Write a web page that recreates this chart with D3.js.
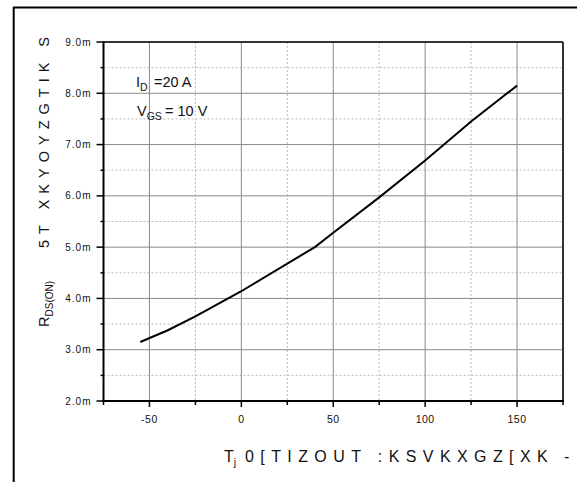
<!DOCTYPE html>
<html>
<head>
<meta charset="utf-8">
<script src="https://cdn.jsdelivr.net/npm/d3@7"></script>
<style>
  body { margin: 0; background: #fff; }
  text, tspan { font-family: "Liberation Sans", Arial, sans-serif; fill: #111; }
</style>
</head>
<body>
<div id="container"></div>
<script>
// R_DS(on) vs junction temperature
const temps = [-55, -40, -25, 0, 25, 40, 50, 75, 100, 125, 150];
const rdson = [3.15, 3.38, 3.65, 4.14, 4.68, 5.0, 5.28, 5.97, 6.69, 7.45, 8.15];

const xMajor = [-50, 0, 50, 100, 150];
const xMinor = [-75, -25, 25, 75, 125, 175];
const yMajor = [2, 3, 4, 5, 6, 7, 8, 9];
const yMinor = [2.5, 3.5, 4.5, 5.5, 6.5, 7.5, 8.5];
const yTickLabels = ["2.0m", "3.0m", "4.0m", "5.0m", "6.0m", "7.0m", "8.0m", "9.0m"];

const width = 577, height = 482;
const plotL = 103.5, plotR = 563, plotT = 42, plotB = 401;

const svg = d3.select("#container").append("svg")
    .attr("width", width)
    .attr("height", height);

// outer frame lines (top and left only)
svg.append("line")
    .attr("x1", 13).attr("y1", 7.5).attr("x2", width).attr("y2", 7.5)
    .attr("stroke", "#000").attr("stroke-width", 2);
svg.append("line")
    .attr("x1", 13.7).attr("y1", 7).attr("x2", 13.7).attr("y2", height)
    .attr("stroke", "#000").attr("stroke-width", 2);

const x = d3.scaleLinear().domain([-75, 175]).range([plotL, plotR]);
const y = d3.scaleLinear().domain([2, 9]).range([plotB, plotT]);

// minor grid (dashed)
svg.selectAll(".vminor").data(xMinor.slice(1, -1)).enter().append("line")
    .attr("x1", d => x(d)).attr("x2", d => x(d))
    .attr("y1", plotT).attr("y2", plotB)
    .attr("stroke", "#bbb").attr("stroke-dasharray", "2,2");
svg.selectAll(".hminor").data(yMinor).enter().append("line")
    .attr("x1", plotL).attr("x2", plotR)
    .attr("y1", d => y(d)).attr("y2", d => y(d))
    .attr("stroke", "#bbb").attr("stroke-dasharray", "2,2");

// major grid (solid)
svg.selectAll(".vmajor").data(xMajor).enter().append("line")
    .attr("x1", d => x(d)).attr("x2", d => x(d))
    .attr("y1", plotT).attr("y2", plotB)
    .attr("stroke", "#8a8a8a").attr("stroke-width", 1);
svg.selectAll(".hmajor").data(yMajor.slice(1, -1)).enter().append("line")
    .attr("x1", plotL).attr("x2", plotR)
    .attr("y1", d => y(d)).attr("y2", d => y(d))
    .attr("stroke", "#8a8a8a").attr("stroke-width", 1);

// top and right borders
svg.append("line")
    .attr("x1", plotL).attr("x2", plotR).attr("y1", plotT).attr("y2", plotT)
    .attr("stroke", "#333").attr("stroke-width", 2);
svg.append("line")
    .attr("x1", plotR).attr("x2", plotR).attr("y1", plotT).attr("y2", plotB)
    .attr("stroke", "#333").attr("stroke-width", 2);

// axis lines
svg.append("line")
    .attr("x1", plotL).attr("x2", plotL).attr("y1", plotT - 1).attr("y2", plotB + 1)
    .attr("stroke", "#000").attr("stroke-width", 2);
svg.append("line")
    .attr("x1", plotL - 1).attr("x2", plotR + 1).attr("y1", plotB).attr("y2", plotB)
    .attr("stroke", "#000").attr("stroke-width", 2);

// ticks
svg.selectAll(".xt").data(xMajor).enter().append("line")
    .attr("x1", d => x(d)).attr("x2", d => x(d))
    .attr("y1", plotB).attr("y2", plotB + 6)
    .attr("stroke", "#000").attr("stroke-width", 1.5);
svg.selectAll(".xtm").data(xMinor).enter().append("line")
    .attr("x1", d => x(d)).attr("x2", d => x(d))
    .attr("y1", plotB).attr("y2", plotB + 4)
    .attr("stroke", "#000").attr("stroke-width", 1.5);
svg.selectAll(".yt").data(yMajor).enter().append("line")
    .attr("x1", plotL - 7).attr("x2", plotL)
    .attr("y1", d => y(d)).attr("y2", d => y(d))
    .attr("stroke", "#000").attr("stroke-width", 1.5);
svg.selectAll(".ytm").data(yMinor).enter().append("line")
    .attr("x1", plotL - 3).attr("x2", plotL)
    .attr("y1", d => y(d)).attr("y2", d => y(d))
    .attr("stroke", "#000").attr("stroke-width", 1.5);

// tick labels
svg.selectAll(".xl").data(xMajor).enter().append("text")
    .attr("x", d => x(d)).attr("y", plotB + 22)
    .attr("text-anchor", "middle")
    .attr("font-size", 10.5)
    .style("letter-spacing", "0.5px")
    .text(d => d);
svg.selectAll(".yl").data(yMajor).enter().append("text")
    .attr("x", plotL - 12).attr("y", d => y(d) + 3.5)
    .attr("text-anchor", "end")
    .attr("font-size", 10)
    .style("letter-spacing", "1px")
    .text((d, i) => yTickLabels[i]);

// curve
const line = d3.line()
    .x((d, i) => x(temps[i]))
    .y(d => y(d));
svg.append("path")
    .attr("d", line(rdson))
    .attr("fill", "none")
    .attr("stroke", "#000")
    .attr("stroke-width", 2);

// annotations
const a1 = svg.append("text").attr("x", 136).attr("y", 86.5).attr("font-size", 14.5);
a1.append("tspan").text("I");
a1.append("tspan").attr("font-size", 10.5).attr("dy", 4).text("D");
a1.append("tspan").attr("dy", -4).attr("x", 154).text("=20 A");

const a2 = svg.append("text").attr("x", 137).attr("y", 116).attr("font-size", 14.5);
a2.append("tspan").text("V");
a2.append("tspan").attr("font-size", 10.5).attr("dy", 4).text("GS");
a2.append("tspan").attr("dy", -4).attr("x", 165).text("= 10 V");

// y axis title
const yt = svg.append("text")
    .attr("transform", "translate(49,327) rotate(-90)")
    .attr("font-size", 14.5);
yt.append("tspan").text("R");
yt.append("tspan").attr("font-size", 10).attr("dy", 4).text("DS(ON)");
yt.append("tspan").attr("dy", -4).attr("x", 79)
    .style("letter-spacing", "6px")
    .text("5T XKYOYZGTIK S");

// x axis title
const xt = svg.append("text")
    .attr("x", 224).attr("y", 462)
    .attr("font-size", 16);
xt.append("tspan").text("T");
xt.append("tspan").attr("font-size", 10.5).attr("dy", 4).attr("fill", "#111").text("j");
xt.append("tspan").attr("dy", -4).attr("x", 245)
    .style("letter-spacing", "6.4px")
    .text("0[TIZOUT :KSVKXGZ[XK");
xt.append("tspan").attr("x", 564).text("-");
</script>
</body>
</html>
